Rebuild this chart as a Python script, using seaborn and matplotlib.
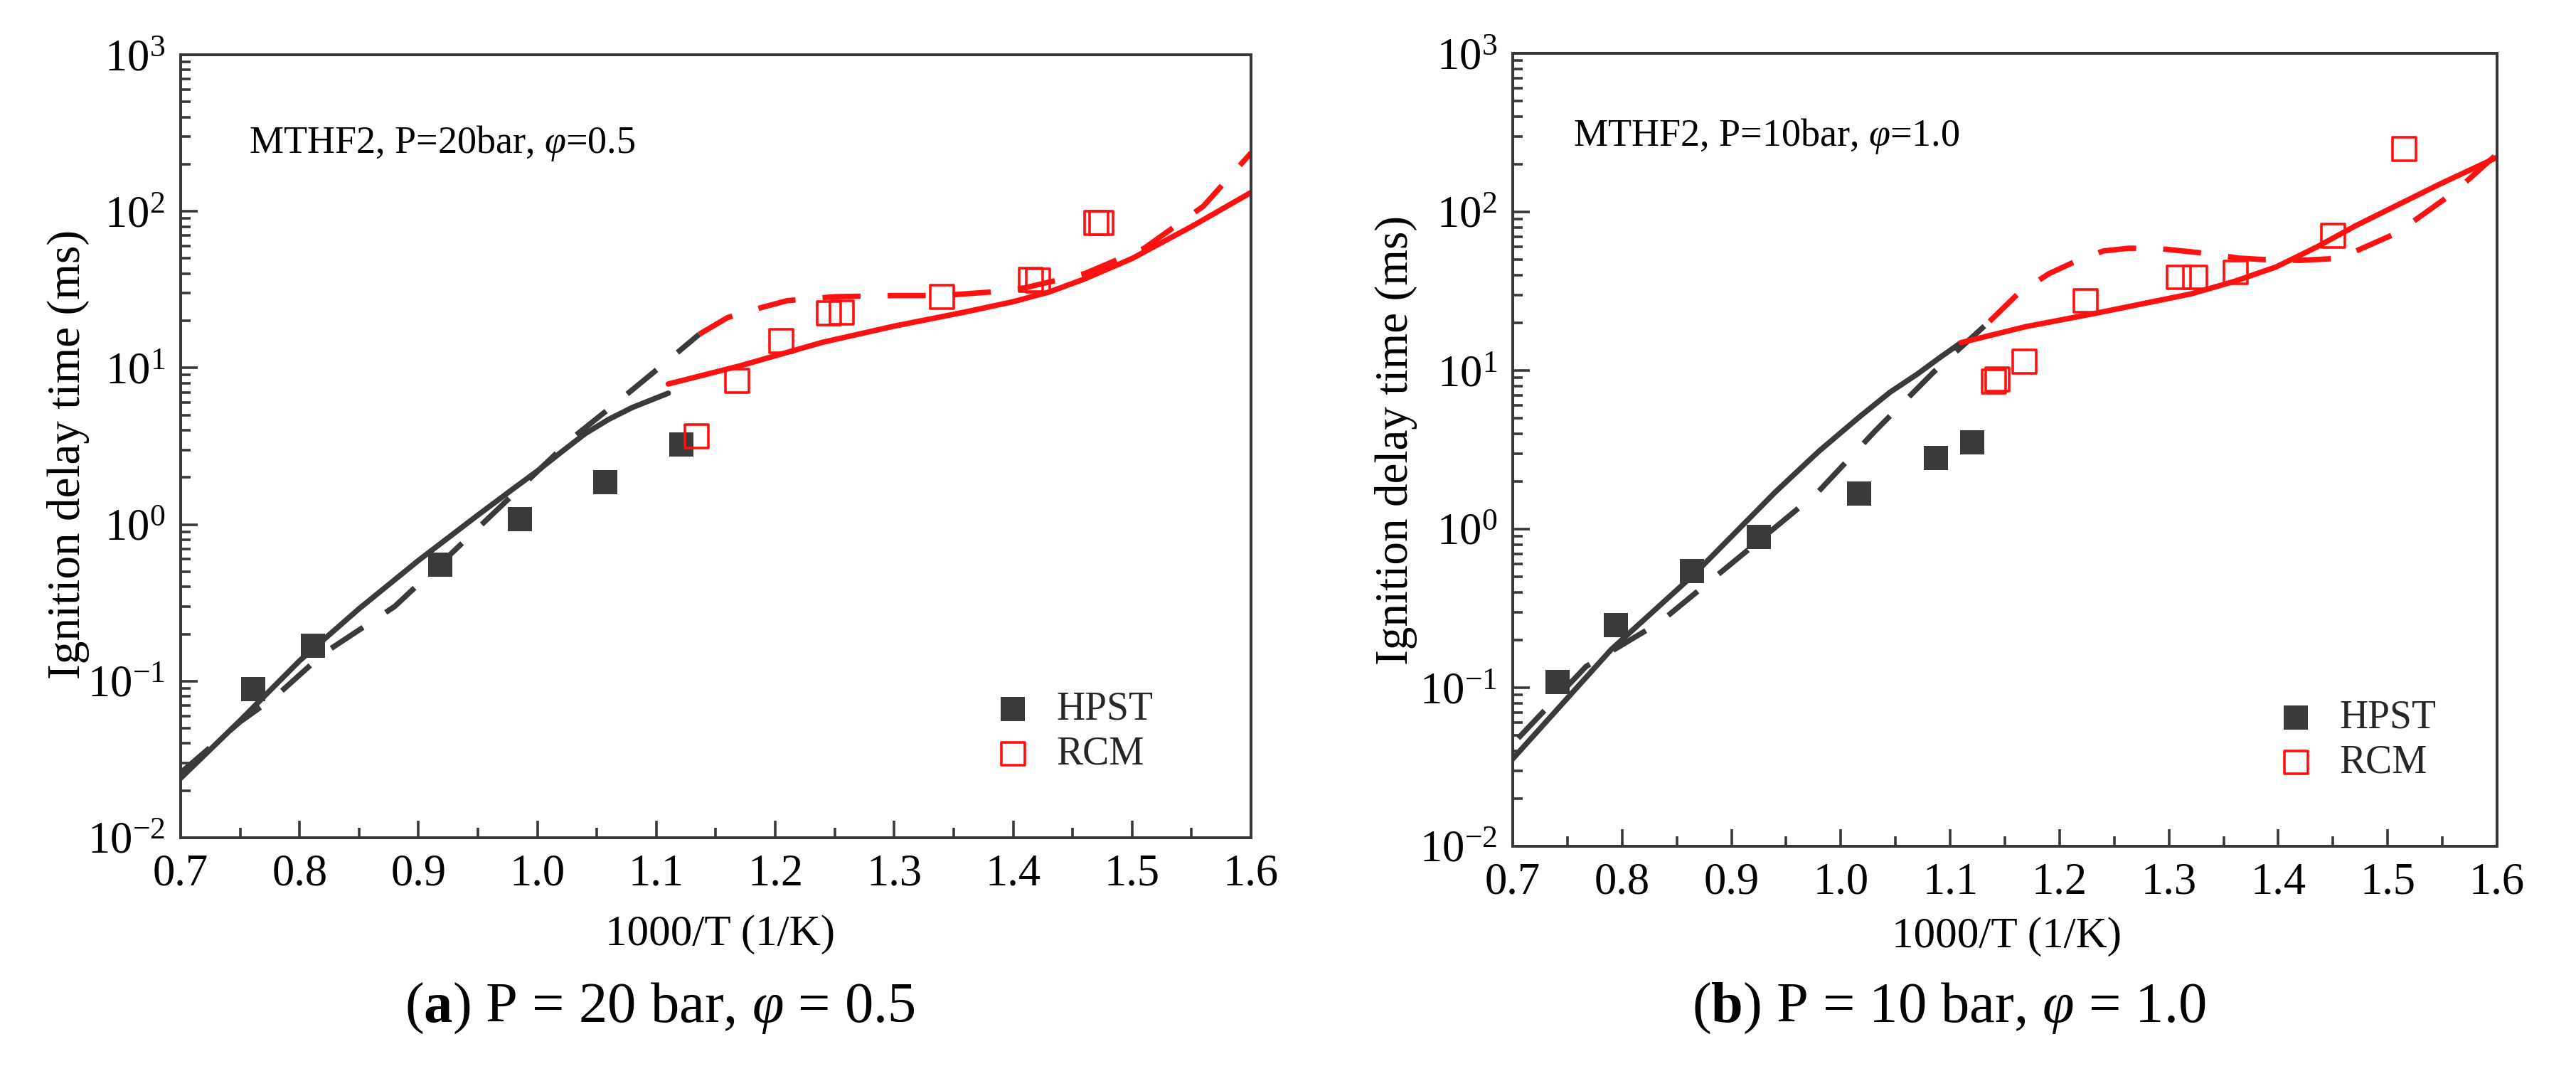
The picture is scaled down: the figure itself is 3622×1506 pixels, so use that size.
import numpy as np
import pandas as pd
import matplotlib
matplotlib.use("Agg")
import matplotlib.pyplot as plt
import seaborn as sns
from matplotlib.ticker import FixedLocator, FuncFormatter, NullFormatter, LogLocator, MultipleLocator

# ---------------- data ----------------
# panel (a): P = 20 bar, phi = 0.5
hpst_a_x = [0.761, 0.811, 0.918, 0.985, 1.057, 1.121]
hpst_a_y = [0.089, 0.168, 0.552, 1.08, 1.86, 3.25]
rcm_a_x = [1.134, 1.168, 1.205, 1.245, 1.256, 1.340, 1.415, 1.421, 1.470, 1.474]
rcm_a_y = [3.66, 8.3, 14.9, 22.3, 22.5, 28.4, 36.5, 36.0, 84.0, 84.0]

model1_hiT_a_x = [0.70, 0.75, 0.80, 0.85, 0.90, 0.95, 0.98, 1.00, 1.02, 1.04, 1.06, 1.08, 1.11]
model1_hiT_a_y = [0.024, 0.056, 0.135, 0.29, 0.59, 1.15, 1.7, 2.2, 2.9, 3.8, 4.7, 5.6, 6.9]
model2_hiT_a_x = [0.70, 0.75, 0.78, 0.82, 0.88, 0.93, 0.99, 1.03, 1.07, 1.11, 1.136]
model2_hiT_a_y = [0.026, 0.055, 0.08, 0.15, 0.30, 0.68, 1.85, 3.6, 6.3, 11.2, 16.4]
model1_loT_a_x = [1.11, 1.17, 1.24, 1.30, 1.36, 1.40, 1.43, 1.46, 1.50, 1.55, 1.60]
model1_loT_a_y = [7.9, 10.3, 14.6, 18.5, 22.8, 26.5, 30.5, 37.0, 50.0, 80.0, 132.0]
model2_loT_a_x = [1.136, 1.16, 1.19, 1.21, 1.25, 1.30, 1.34, 1.38, 1.41, 1.46, 1.51, 1.56, 1.60]
model2_loT_a_y = [16.4, 21.0, 24.5, 26.9, 28.5, 29.0, 29.0, 30.5, 32.5, 40.0, 58.0, 108.0, 236.0]

# panel (b): P = 10 bar, phi = 1.0
hpst_b_x = [0.741, 0.794, 0.864, 0.925, 1.017, 1.087, 1.120]
hpst_b_y = [0.109, 0.247, 0.546, 0.897, 1.68, 2.81, 3.53]
rcm_b_x = [1.140, 1.143, 1.168, 1.224, 1.309, 1.324, 1.361, 1.450, 1.515]
rcm_b_y = [8.5, 8.8, 11.4, 27.5, 38.7, 38.7, 41.6, 70.6, 249.0]

model1_hiT_b_x = [0.70, 0.79, 0.866, 0.94, 0.98, 1.017, 1.045, 1.07, 1.09, 1.11]
model1_hiT_b_y = [0.0356, 0.174, 0.52, 1.71, 3.1, 5.1, 7.3, 9.5, 12.0, 15.0]
model2_hiT_b_x = [0.705, 0.767, 0.835, 0.911, 0.979, 1.032, 1.085, 1.136]
model2_hiT_b_y = [0.048, 0.136, 0.26, 0.70, 1.71, 4.2, 9.8, 20.4]
model1_loT_b_x = [1.11, 1.169, 1.235, 1.32, 1.36, 1.398, 1.435, 1.471, 1.547, 1.60]
model1_loT_b_y = [15.0, 18.9, 23.1, 30.4, 36.5, 45.0, 60.0, 82.0, 149.0, 221.0]
model2_loT_b_x = [1.136, 1.162, 1.19, 1.214, 1.24, 1.263, 1.288, 1.313, 1.338, 1.363,
                  1.388, 1.42, 1.456, 1.509, 1.562, 1.60]
model2_loT_b_y = [20.4, 30.5, 40.7, 48.6, 56.7, 59.0, 59.0, 56.7, 54.4, 51.2,
                  50.0, 49.5, 51.0, 74.0, 135.0, 232.0]

x_ticks = [0.7, 0.8, 0.9, 1.0, 1.1, 1.2, 1.3, 1.4, 1.5, 1.6]
y_decades = [-2, -1, 0, 1, 2, 3]
legend_labels = ["HPST", "RCM"]
annot_a = r"MTHF2, P=20bar, $\varphi$=0.5"
annot_b = r"MTHF2, P=10bar, $\varphi$=1.0"
caption_a = r"($\mathbf{a}$) P = 20 bar, $\varphi$ = 0.5"
caption_b = r"($\mathbf{b}$) P = 10 bar, $\varphi$ = 1.0"
xlabel = "1000/T (1/K)"
ylabel = "Ignition delay time (ms)"

# ---------------- style ----------------
sns.set_theme(style="white")
plt.rcParams["font.family"] = ["Liberation Serif", "DejaVu Serif"]
plt.rcParams["mathtext.fontset"] = "custom"
plt.rcParams["mathtext.rm"] = "Liberation Serif"
plt.rcParams["mathtext.it"] = "Liberation Serif:italic"
plt.rcParams["mathtext.bf"] = "Liberation Serif:bold"

DARK = "#3a3a3a"
RED = "#ff1010"
SPINE = "#383838"

W, H = 3622, 1506
fig = plt.figure(figsize=(W / 100, H / 100), dpi=100)
fig.patch.set_facecolor("white")


def px_axes(l, t, r, b):
    return fig.add_axes([l / W, 1 - b / H, (r - l) / W, (b - t) / H])


ax_a = px_axes(254, 77, 1759, 1178)
ax_b = px_axes(2127, 75, 3511, 1190)


def draw_panel(ax, hx, hy, rx, ry, m1h, m2h, m1l, m2l):
    ax.set_yscale("log")
    lw = 5.5
    dash = (0, (7, 5))
    for (xs, ys), col, ls in [
        (m1h, DARK, "-"), (m2h, DARK, dash),
        (m1l, RED, "-"), (m2l, RED, dash),
    ]:
        df = pd.DataFrame({"x": xs, "y": ys})
        sns.lineplot(data=df, x="x", y="y", ax=ax, color=col, lw=lw,
                     linestyle=ls, sort=False, estimator=None, legend=False)
    dh = pd.DataFrame({"x": hx, "y": hy})
    sns.scatterplot(data=dh, x="x", y="y", ax=ax, marker="s", s=600,
                    color=DARK, edgecolor=DARK, linewidth=0, label=legend_labels[0],
                    zorder=5, legend=False)
    dr = pd.DataFrame({"x": rx, "y": ry})
    sns.scatterplot(data=dr, x="x", y="y", ax=ax, marker="s", s=560,
                    color=RED, facecolor="none", edgecolor=RED, linewidth=2.6,
                    label=legend_labels[1], zorder=6, legend=False)

    ax.set_xlim(0.7, 1.6)
    ax.set_ylim(1e-2, 1e3)
    ax.xaxis.set_major_locator(FixedLocator(x_ticks))
    ax.xaxis.set_minor_locator(MultipleLocator(0.05))
    ax.xaxis.set_major_formatter(FuncFormatter(lambda v, p: f"{v:.1f}"))
    ax.yaxis.set_major_locator(FixedLocator([10.0 ** d for d in y_decades]))
    ax.yaxis.set_major_formatter(FuncFormatter(lambda v, p: r"$10^{%d}$" % int(round(np.log10(v)))))
    ax.yaxis.set_minor_locator(LogLocator(base=10, subs=np.arange(2, 10), numticks=20))
    ax.yaxis.set_minor_formatter(NullFormatter())
    ax.tick_params(which="both", direction="in", top=False, right=False,
                   bottom=True, left=True,
                   color=SPINE, width=2.6, labelsize=45, labelcolor="black")
    ax.tick_params(which="major", length=17)
    ax.tick_params(which="minor", length=10)
    ax.tick_params(axis="x", which="major", pad=16)
    ax.tick_params(axis="y", which="major", pad=16)
    for sp in ax.spines.values():
        sp.set_visible(True)
        sp.set_color(SPINE)
        sp.set_linewidth(2.9)
    ax.set_xlabel(xlabel, fontsize=44, color="black")
    ax.set_ylabel(ylabel, fontsize=47, color="black")
    ax.grid(False)
    ax.set_facecolor("white")


draw_panel(ax_a, hpst_a_x, hpst_a_y, rcm_a_x, rcm_a_y,
           (model1_hiT_a_x, model1_hiT_a_y), (model2_hiT_a_x, model2_hiT_a_y),
           (model1_loT_a_x, model1_loT_a_y), (model2_loT_a_x, model2_loT_a_y))
draw_panel(ax_b, hpst_b_x, hpst_b_y, rcm_b_x, rcm_b_y,
           (model1_hiT_b_x, model1_hiT_b_y), (model2_hiT_b_x, model2_hiT_b_y),
           (model1_loT_b_x, model1_loT_b_y), (model2_loT_b_x, model2_loT_b_y))

# axis label positions
ax_a.xaxis.set_label_coords(0.504, -0.1235)
ax_a.xaxis.label.set_va("center")
ax_a.yaxis.set_label_coords(-0.105, 0.49)
ax_a.yaxis.label.set_va("center")
ax_b.xaxis.set_label_coords(0.502, -0.114)
ax_b.xaxis.label.set_va("center")
ax_b.yaxis.set_label_coords(-0.1185, 0.512)
ax_b.yaxis.label.set_va("center")

# annotations
ax_a.text(0.064, 0.8747, annot_a, transform=ax_a.transAxes, fontsize=39,
          ha="left", va="baseline", color="black")
ax_b.text(0.0614, 0.8834, annot_b, transform=ax_b.transAxes, fontsize=39,
          ha="left", va="baseline", color="black")

# legends
for ax, lx, ly in [(ax_a, 1402 / W, 1 - 1029 / H), (ax_b, 3206 / W, 1 - 1041 / H)]:
    handles, labels = ax.get_legend_handles_labels()
    ax.legend(handles, labels, loc="center left", bbox_to_anchor=(lx, ly),
              bbox_transform=fig.transFigure, frameon=False, fontsize=40,
              handlelength=0.8, handletextpad=0.7, labelspacing=0.2,
              borderpad=0, borderaxespad=0, markerscale=1.0)

# captions
fig.text(928 / W, 1 - 1437 / H, caption_a, fontsize=58, ha="center", va="baseline", color="black")
fig.text(2740 / W, 1 - 1437 / H, caption_b, fontsize=58, ha="center", va="baseline", color="black")

fig.savefig("out.png", dpi=100, facecolor="white")
